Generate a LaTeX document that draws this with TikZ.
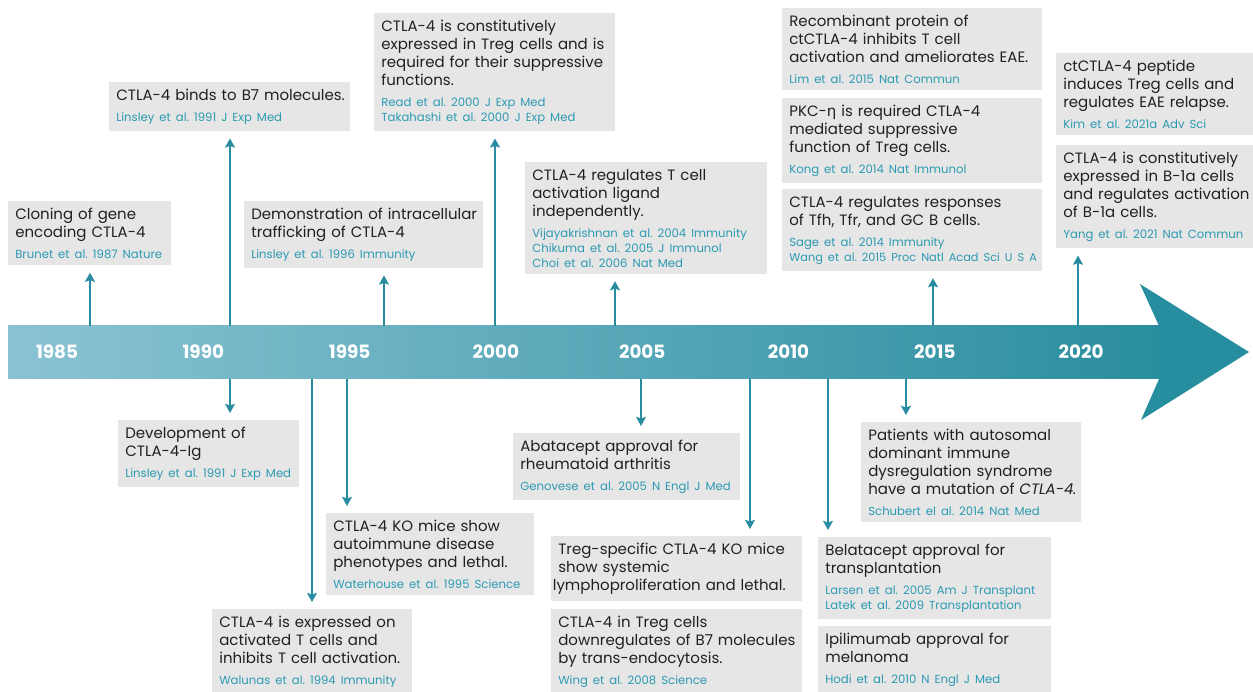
\documentclass[tikz,border=0pt]{standalone}
\usepackage{fontspec}
\setmainfont{Poppins}
\newfontfamily\grkfont{DejaVu Sans}
\usetikzlibrary{arrows.meta}

\definecolor{boxgray}{HTML}{E6E6E7}
\definecolor{titlegray}{HTML}{231F20}
\definecolor{citeteal}{HTML}{2C9AB1}
\definecolor{lineteal}{HTML}{2A8CA0}
\definecolor{barlight}{HTML}{8AC3D3}
\definecolor{bardark}{HTML}{2A8E9F}
\definecolor{headteal}{HTML}{268E9E}

\hyphenpenalty=10000
\exhyphenpenalty=10000
\frenchspacing

\newcommand{\titlefont}{\fontsize{9}{10.8}\selectfont}
\newcommand{\citefont}{\fontsize{7}{9}\selectfont\color{citeteal}}
\newcommand{\evt}[2]{\leftskip=3.3pt #1\par\vskip3.6pt{\citefont #2\par}}

\begin{document}
\begin{tikzpicture}[
        x=0.6pt, y=-0.6pt,
        event/.style={fill=boxgray, anchor=north west, align=left,
            inner xsep=0.9pt, inner ysep=4pt, font=\titlefont, text=titlegray},
        year/.style={text=white, font=\fontsize{11}{13}\selectfont\bfseries},
        link/.style={draw=lineteal, line width=0.9pt,
            -{Stealth[length=5.5pt,width=6pt,inset=1pt]}, shorten >=4.2pt},
        >=Stealth % Voreinstellung
        ]
    \useasboundingbox (0,0) rectangle (1253,692);

    % Zeitstrahl
    \shade[left color=barlight, right color=bardark] (8,326) rectangle (1159,379);
    \fill[headteal] (1140,284) -- (1249,352) -- (1141,420) -- (1159,379)
                    -- (1159,326) -- cycle;
    \foreach \yr [count=\i from 0] in {1985,1990,1995,2000,2005,2010,2015,2020}
        \node[year] (y\yr) at (57+146.3*\i,352) {\yr};

    % Ereignisse oben
    \node[event, text width=96pt] (cloning) at (8,201)
        {\evt{Cloning of gene\\encoding CTLA-4}{Brunet et al. 1987 Nature}};
    \node[event, text width=142.8pt] (binds) at (109,82)
        {\evt{CTLA-4 binds to B7 molecules.}{Linsley et al. 1991 J Exp Med}};
    \node[event, text width=141.6pt] (traffic) at (244,201)
        {\evt{Demonstration of intracellular\\trafficking of CTLA-4}{Linsley et al. 1996 Immunity}};
    \node[event, text width=142.8pt] (tregexp) at (374,13)
        {\evt{CTLA-4 is constitutively\\expressed in Treg cells and is\\required for their suppressive\\functions.}%
        {Read et al. 2000 J Exp Med\\Takahashi et al. 2000 J Exp Med}};
    \node[event, text width=143.4pt] (ligand) at (525,162)
        {\evt{CTLA-4 regulates T cell\\activation ligand\\independently.}%
        {Vijayakrishnan et al. 2004 Immunity\\Chikuma et al. 2005 J Immunol\\Choi et al. 2006 Nat Med}};
    \node[event, text width=154.2pt] (recomb) at (782,8)
        {\evt{Recombinant protein of\\ctCTLA-4 inhibits T cell\\activation and ameliorates EAE.}{Lim et al. 2015 Nat Commun}};
    \node[event, text width=154.2pt] (pkc) at (782,98)
        {\evt{PKC-{\grkfont η} is required CTLA-4\\mediated suppressive\\function of Treg cells.}{Kong et al. 2014 Nat Immunol}};
    \node[event, text width=154.2pt] (tfh) at (782,189)
        {\evt{CTLA-4 regulates responses\\of Tfh, Tfr, and GC B cells.}%
        {Sage et al. 2014 Immunity\\\mbox{\fontsize{6.8}{9}\selectfont Wang et al. 2015 Proc Natl Acad Sci U S A}}};
    \node[event, text width=116.4pt] (peptide) at (1056,53)
        {\evt{ctCTLA-4 peptide\\induces Treg cells and\\regulates EAE relapse.}{Kim et al. 2021a Adv Sci}};
    \node[event, text width=116.4pt] (bcell) at (1056,145)
        {\evt{CTLA-4 is constitutively\\expressed in B-1a cells\\and regulates activation\\of B-1a cells.}{Yang et al. 2021 Nat Commun}};

    % Ereignisse unten
    \node[event, text width=106.8pt] (ig) at (118,420)
        {\evt{Development of\\CTLA-4-Ig}{Linsley et al. 1991 J Exp Med}};
    \node[event, text width=118.2pt] (walunas) at (212,609)
        {\evt{CTLA-4 is expressed on\\activated T cells and\\inhibits T cell activation.}{Walunas et al. 1994 Immunity}};
    \node[event, text width=123pt] (komice) at (326,513)
        {\evt{CTLA-4 KO mice show\\autoimmune disease\\phenotypes and lethal.}{Waterhouse et al. 1995 Science}};
    \node[event, text width=134.4pt] (abatacept) at (513,433)
        {\evt{Abatacept approval for\\rheumatoid arthritis}{Genovese et al. 2005 N Engl J Med}};
    \node[event, text width=148.8pt] (tregko) at (551,536)
        {\leftskip=3.3pt Treg-specific CTLA-4 KO mice\\show systemic\\lymphoproliferation and lethal.};
    \node[event, text width=148.8pt] (transendo) at (551,609)
        {\evt{CTLA-4 in Treg cells\\downregulates of B7 molecules\\by trans-endocytosis.}{Wing et al. 2008 Science}};
    \node[event, text width=138pt] (belatacept) at (818,537)
        {\evt{Belatacept approval for\\transplantation}%
        {Larsen et al. 2005 Am J Transplant\\Latek et al. 2009 Transplantation}};
    \node[event, text width=138pt] (ipilimumab) at (818,626)
        {\evt{Ipilimumab approval for\\melanoma}{Hodi et al. 2010 N Engl J Med}};
    \node[event, text width=130.2pt] (patients) at (861,422)
        {\evt{Patients with autosomal\\dominant immune\\dysregulation syndrome\\have a mutation of \textit{CTLA-4.}}{Schubert el al. 2014 Nat Med}};

    % Pfeile
    \foreach \x/\b in {90/cloning, 230/binds, 384/traffic, 495/tregexp,
                       615/ligand, 933/tfh, 1078/bcell} {
        \coordinate (t-\b) at (\x,326);
        \draw[link] (t-\b) -- (t-\b |- \b.south);
    }
    \foreach \x/\b in {230/ig, 312/walunas, 347/komice, 641/abatacept,
                       750/tregko, 828/belatacept, 906/patients} {
        \coordinate (t-\b) at (\x,379);
        \draw[link] (t-\b) -- (t-\b |- \b.north);
    }
\end{tikzpicture}
\end{document}
